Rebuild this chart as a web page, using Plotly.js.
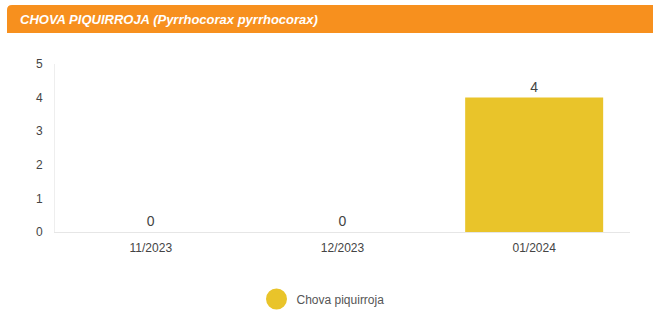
<!DOCTYPE html>
<html>
<head>
<meta charset="utf-8">
<script src="https://cdn.plot.ly/plotly-3.0.1.min.js"></script>
<style>html,body{margin:0;padding:0;background:#fff;}#chart{width:653px;height:311px;}</style>
</head>
<body>
<div id="chart"></div>
<script>
const categories = ["11/2023", "12/2023", "01/2024"];
const values = [0, 0, 4];
const seriesName = "Chova piquirroja";
const chartTitle = "CHOVA PIQUIRROJA (Pyrrhocorax pyrrhocorax)";
const yTicks = [0, 1, 2, 3, 4, 5];

const barColor = "#E9C42A";
const font = "Liberation Sans, Arial, sans-serif";

const traces = [
  {
    type: "bar",
    x: categories,
    y: values,
    name: seriesName,
    showlegend: false,
    marker: {color: barColor},
    text: values.map(String),
    textposition: "outside",
    cliponaxis: false,
    textfont: {family: font, size: 14, color: "#444"},
    hoverinfo: "x+y"
  },
  {
    type: "scatter",
    mode: "markers",
    x: [null],
    y: [null],
    name: seriesName,
    showlegend: true,
    marker: {color: barColor, size: 16, symbol: "circle", line: {color: barColor, width: 5}},
    hoverinfo: "skip"
  }
];

const W = 575, H = 168, L = 55, B = 232;
const px = v => (v - L) / W;
const py = v => (B - v) / H;
const hx0 = px(7), hx1 = px(656), hyT = py(5), hyB = py(33);
const rx = 5 / W, ry = 5 / H;
const headerPath = `M ${hx0},${hyB} L ${hx0},${hyT - ry} Q ${hx0},${hyT} ${hx0 + rx},${hyT} L ${hx1},${hyT} L ${hx1},${hyB} Z`;

const layout = {
  width: 653,
  height: 311,
  margin: {l: 55, r: 23, t: 64, b: 79},
  paper_bgcolor: "#fff",
  plot_bgcolor: "#fff",
  font: {family: font, size: 12, color: "#444"},
  title: {
    text: "<b><i>" + chartTitle + "</i></b>",
    font: {family: font, size: 13, color: "#fff"},
    x: 20 / 653,
    xanchor: "left",
    xref: "container",
    y: 1 - 19 / 311,
    yanchor: "middle",
    yref: "container"
  },
  shapes: [{
    type: "path",
    xref: "paper",
    yref: "paper",
    path: headerPath,
    fillcolor: "#F7901E",
    line: {width: 0},
    layer: "below"
  }],
  xaxis: {
    type: "category",
    showgrid: false,
    showline: true,
    linecolor: "#e6e6e6",
    linewidth: 1,
    ticks: "",
    ticklabelstandoff: 5,
    tickfont: {family: font, size: 12, color: "#444"},
    fixedrange: true
  },
  yaxis: {
    range: [0, 5],
    tickvals: yTicks,
    showgrid: false,
    zeroline: false,
    showline: true,
    linecolor: "#eeeeee",
    linewidth: 1,
    ticks: "",
    ticklabelstandoff: 9,
    tickfont: {family: font, size: 12, color: "#444"},
    fixedrange: true
  },
  bargap: 0.28,
  showlegend: true,
  legend: {
    orientation: "h",
    xref: "container",
    yref: "container",
    x: 323 / 653,
    xanchor: "center",
    y: 12 / 311,
    yanchor: "middle",
    font: {family: font, size: 12, color: "#555"}
  }
};

Plotly.newPlot("chart", traces, layout, {displayModeBar: false, staticPlot: true});
</script>
</body>
</html>
